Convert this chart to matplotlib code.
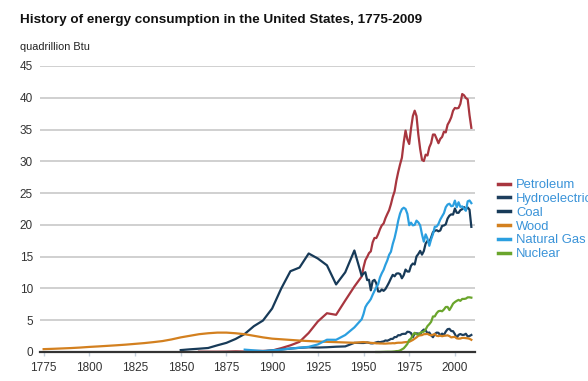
import matplotlib
matplotlib.use("Agg")
import matplotlib.pyplot as plt

plt.rcParams["font.family"] = ["Liberation Sans Narrow", "Liberation Sans", "DejaVu Sans"]

# five-year readings up to 1945, then one point per year
early_years = list(range(1775, 1950, 5))
annual_years = list(range(1949, 2010))

wood_early = [0.45, 0.5, 0.56, 0.62, 0.7, 0.8, 0.88, 0.97, 1.06, 1.16, 1.28, 1.4,
              1.55, 1.72, 1.98, 2.3, 2.55, 2.8, 2.95, 3.05, 3.05, 2.95, 2.8, 2.55,
              2.3, 2.1, 2.0, 1.9, 1.8, 1.72, 1.65, 1.6, 1.55, 1.5, 1.45]
wood_annual = [1.55, 1.56, 1.54, 1.50, 1.47, 1.44, 1.42, 1.40, 1.36, 1.36, 1.34, 1.34,
               1.32, 1.32, 1.34, 1.36, 1.36, 1.39, 1.37, 1.43, 1.46, 1.46, 1.47, 1.52,
               1.55, 1.58, 1.60, 1.75, 1.90, 2.10, 2.30, 2.55, 2.62, 2.66, 2.80, 2.82,
               2.85, 2.70, 2.62, 2.72, 2.82, 2.55, 2.50, 2.58, 2.48, 2.55, 2.58, 2.62,
               2.50, 2.30, 2.35, 2.38, 2.15, 2.10, 2.12, 2.22, 2.22, 2.18, 2.15, 2.08, 1.92]

coal_early = [0.3, 0.42, 0.52, 0.63, 1.05, 1.44, 2.05, 2.84, 4.06, 4.95, 6.84, 10.0,
              12.71, 13.29, 15.5, 14.71, 13.64, 10.63, 12.54, 15.97]
coal_annual = [11.98, 12.35, 12.55, 11.31, 11.37, 9.71, 11.17, 11.35, 10.82, 9.53, 9.52,
               9.84, 9.62, 9.91, 10.41, 10.96, 11.58, 12.14, 11.91, 12.33, 12.38, 12.27,
               11.60, 12.08, 12.97, 12.66, 12.66, 13.58, 13.92, 13.77, 15.04, 15.42,
               15.91, 15.32, 15.89, 17.07, 17.48, 17.26, 18.01, 18.85, 19.07, 19.17,
               18.99, 19.12, 19.84, 19.91, 20.09, 21.00, 21.45, 21.66, 21.62, 22.58,
               21.91, 21.90, 22.32, 22.47, 22.80, 22.45, 22.75, 22.39, 19.69]

petro_early = [0.05, 0.05, 0.05, 0.06, 0.1, 0.07, 0.16, 0.17, 0.23, 0.61, 1.05, 1.6,
               3.0, 4.8, 6.1, 5.85, 8.1, 10.3]
petro_annual = [11.88, 13.32, 14.43, 14.96, 15.56, 15.84, 17.25, 17.94, 17.93, 18.53,
                19.32, 19.92, 20.22, 21.05, 21.70, 22.30, 23.25, 24.40, 25.28, 26.98,
                28.34, 29.52, 30.56, 32.95, 34.84, 33.45, 32.73, 35.18, 37.12, 37.97,
                37.12, 34.20, 31.93, 30.23, 30.05, 31.05, 30.92, 32.20, 32.87, 34.22,
                34.21, 33.55, 32.85, 33.53, 33.84, 34.67, 34.55, 35.76, 36.27, 36.93,
                37.96, 38.40, 38.33, 38.40, 39.05, 40.59, 40.39, 39.96, 39.77, 37.28, 35.27]

gas_early = [0.37, 0.26, 0.15, 0.25, 0.37, 0.54, 0.67, 0.81, 1.19, 1.93, 1.92, 2.67, 3.87]
gas_annual = [5.15, 5.97, 7.05, 7.55, 7.91, 8.33, 9.00, 9.61, 10.19, 10.66, 11.72, 12.39,
              12.93, 13.73, 14.40, 15.29, 15.77, 16.99, 17.94, 19.21, 20.68, 21.79,
              22.47, 22.70, 22.51, 21.73, 19.95, 20.35, 19.93, 20.00, 20.67, 20.39,
              19.93, 18.51, 17.36, 18.51, 17.83, 16.71, 17.74, 18.55, 19.71, 19.73,
              20.15, 20.84, 21.35, 21.84, 22.78, 23.20, 23.33, 22.94, 23.01, 23.82,
              22.77, 23.56, 22.83, 22.91, 22.56, 22.22, 23.70, 23.84, 23.42]

hydro_early = [0.02, 0.09, 0.25, 0.39, 0.54, 0.66, 0.74, 0.70, 0.75, 0.83, 0.88, 1.44]
hydro_annual = [1.42, 1.42, 1.45, 1.50, 1.44, 1.36, 1.36, 1.43, 1.52, 1.59, 1.54, 1.61,
                1.66, 1.82, 1.77, 1.89, 2.06, 2.06, 2.35, 2.35, 2.65, 2.63, 2.82, 2.86,
                2.86, 3.18, 3.15, 2.98, 2.33, 2.94, 2.93, 2.90, 2.76, 3.27, 3.53, 3.39,
                2.97, 3.07, 2.63, 2.33, 2.84, 3.05, 3.02, 2.62, 2.89, 2.68, 3.21, 3.59,
                3.64, 3.30, 3.27, 2.81, 2.24, 2.69, 2.83, 2.69, 2.70, 2.87, 2.45, 2.51, 2.68]

nuclear_annual = [0.0, 0.0, 0.0, 0.01, 0.02, 0.03, 0.04, 0.04, 0.04, 0.06, 0.09, 0.14,
                  0.15, 0.24, 0.41, 0.58, 0.91, 1.27, 1.90, 2.11, 2.70, 3.02, 2.78, 2.74,
                  3.01, 3.13, 3.20, 3.55, 4.08, 4.38, 4.75, 5.59, 5.60, 6.10, 6.42, 6.48,
                  6.41, 6.69, 7.08, 7.09, 6.60, 7.07, 7.61, 7.86, 8.05, 8.2, 8.05, 8.35,
                  8.35, 8.4, 8.6, 8.6, 8.55]

labels = ["Petroleum", "Hydroelectric", "Coal", "Wood", "Natural Gas", "Nuclear"]
colors = ["#a8363f", "#1e3f5e", "#173a58", "#d3801f", "#2b9fe0", "#6aa52c"]

series = {
    "Petroleum": (early_years[-len(petro_early):] + annual_years, petro_early + petro_annual),
    "Hydroelectric": (early_years[-len(hydro_early):] + annual_years, hydro_early + hydro_annual),
    "Coal": (early_years[-len(coal_early):] + annual_years, coal_early + coal_annual),
    "Wood": (early_years + annual_years, wood_early + wood_annual),
    "Natural Gas": (early_years[-len(gas_early):] + annual_years, gas_early + gas_annual),
    "Nuclear": (annual_years[-len(nuclear_annual):], nuclear_annual),
}

fig = plt.figure(figsize=(5.88, 3.81), dpi=100)
ax = fig.add_axes([40 / 588, 29 / 381, 435 / 588, 286 / 381])

handles = []
for name, col in zip(labels, colors):
    xs, ys = series[name]
    ln, = ax.plot(xs, ys, color=col, lw=1.6, solid_joinstyle="round", clip_on=False)
    handles.append(ln)

ax.set_xlim(1773, 2011)
ax.set_ylim(0, 45)
ax.set_yticks(range(0, 46, 5))
ax.set_xticks(range(1775, 2001, 25))
ax.yaxis.grid(True, color="#c8c8c8", lw=1.2)
ax.set_axisbelow(True)
for s in ["top", "right", "left"]:
    ax.spines[s].set_visible(False)
ax.spines["bottom"].set_color("#333333")
ax.spines["bottom"].set_linewidth(1.6)
ax.spines["bottom"].set_zorder(5)
ax.tick_params(axis="y", length=0, pad=5, labelsize=8.5, labelcolor="#333333")
ax.tick_params(axis="x", length=3, width=1, color="#c5d0dc", pad=4,
               labelsize=8.5, labelcolor="#333333")

fig.text(20 / 588, 1 - 20 / 381, "History of energy consumption in the United States, 1775-2009",
         fontsize=9.7, fontweight="bold", va="center", color="#111111")
fig.text(20 / 588, 1 - 47 / 381, "quadrillion Btu", fontsize=7.8, va="center", color="#222222")

# the reference cuts the long legend labels at the right edge, so no wrapping here
leg = fig.legend(handles, labels, loc="upper left", bbox_to_anchor=(498 / 588, 1 - 179 / 381),
                 frameon=False, handlelength=0.95, handletextpad=0.45,
                 labelspacing=0.13, borderpad=0, borderaxespad=0,
                 prop={"family": ["Liberation Sans", "DejaVu Sans"], "size": 9.4})
for t in leg.get_texts():
    t.set_color("#3a93d8")
for h in leg.legend_handles:
    h.set_linewidth(2.5)

fig.savefig("out.png", dpi=100)
